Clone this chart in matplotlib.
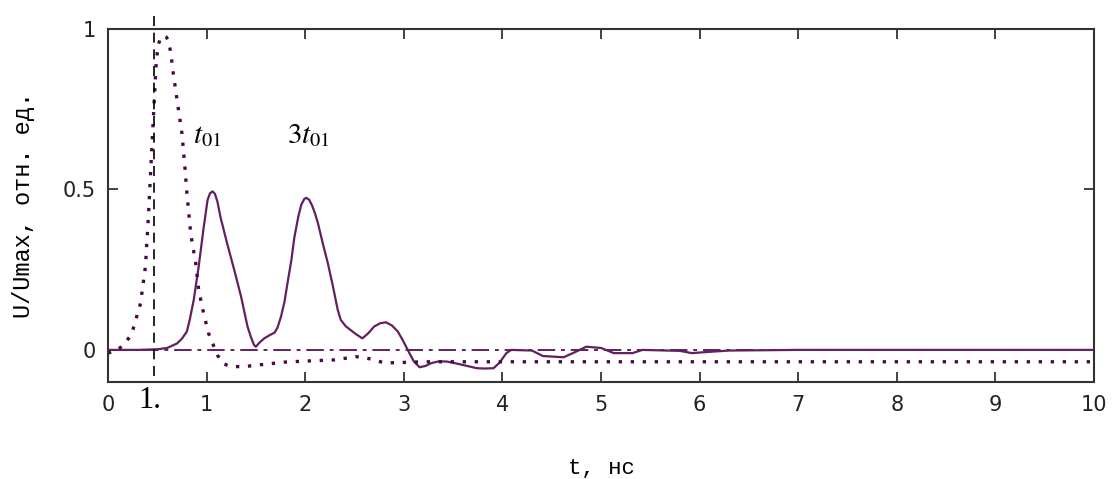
import matplotlib
matplotlib.use('Agg')
import matplotlib.pyplot as plt

plt.rcParams['mathtext.fontset'] = 'stix'

# solid trace (response)
t_resp = [0.0, 0.3, 0.5, 0.6, 0.7, 0.75, 0.8, 0.83, 0.87, 0.92, 0.97, 1.01, 1.035, 1.06, 1.085,
          1.11, 1.14, 1.21, 1.28, 1.35, 1.415, 1.45, 1.48, 1.50, 1.54, 1.585, 1.64, 1.69, 1.72,
          1.755, 1.79, 1.82, 1.86, 1.89, 1.93, 1.96, 1.99, 2.01, 2.04, 2.07, 2.10, 2.13, 2.18,
          2.23, 2.28, 2.33, 2.36, 2.41, 2.46, 2.52, 2.58, 2.64, 2.70, 2.76, 2.82, 2.88, 2.94,
          2.99, 3.04, 3.10, 3.16, 3.22, 3.28, 3.35, 3.43, 3.50, 3.60, 3.74, 3.82, 3.91, 3.97,
          4.04, 4.09, 4.30, 4.41, 4.62, 4.75, 4.85, 5.00, 5.13, 5.32, 5.42, 5.80, 5.92, 6.10,
          6.30, 7.00, 8.00, 9.00, 10.0]
u_resp = [0.0, 0.0, 0.002, 0.006, 0.02, 0.035, 0.057, 0.095, 0.156, 0.26, 0.38, 0.467, 0.488, 0.494, 0.486,
          0.462, 0.415, 0.33, 0.25, 0.166, 0.073, 0.04, 0.016, 0.01, 0.024, 0.036, 0.046, 0.054, 0.07,
          0.104, 0.15, 0.207, 0.28, 0.35, 0.415, 0.452, 0.47, 0.474, 0.468, 0.45, 0.425, 0.394, 0.33,
          0.27, 0.2, 0.125, 0.094, 0.074, 0.062, 0.048, 0.036, 0.052, 0.073, 0.083, 0.086, 0.076, 0.057,
          0.03, 0.0, -0.035, -0.054, -0.05, -0.041, -0.036, -0.036, -0.04, -0.047, -0.057, -0.058, -0.057, -0.04,
          -0.01, 0.0, -0.002, -0.019, -0.023, -0.005, 0.01, 0.006, -0.01, -0.01, 0.0, -0.003, -0.01, -0.006,
          -0.002, 0.0, 0.0, 0.0, 0.0]

# dotted trace (input pulse)
t_in = [0.0, 0.1, 0.17, 0.24, 0.33, 0.38, 0.41, 0.445, 0.47, 0.49, 0.51, 0.53, 0.55, 0.57, 0.59,
        0.61, 0.635, 0.66, 0.70, 0.75, 0.78, 0.80, 0.84, 0.89, 0.92, 0.97, 1.02, 1.07, 1.11, 1.16,
        1.24, 1.38, 1.585, 1.79, 1.99, 2.3, 2.52, 2.62, 2.80, 2.9, 3.2, 5.0, 7.0, 10.0]
u_in = [-0.01, 0.0, 0.02, 0.049, 0.145, 0.26, 0.415, 0.63, 0.78, 0.90, 0.95, 0.97, 0.978, 0.978, 0.975,
        0.967, 0.93, 0.867, 0.78, 0.675, 0.571, 0.49, 0.36, 0.27, 0.187, 0.114, 0.052, 0.014, -0.016, -0.041,
        -0.052, -0.052, -0.045, -0.038, -0.035, -0.031, -0.021, -0.025, -0.04, -0.04, -0.037, -0.037, -0.037, -0.037]

t_zero = [0.0, 10.0]
u_zero = [0.0, 0.0]

t_mark = 0.47

x_ticks = list(range(0, 11))
y_ticks = [0, 0.5, 1]
y_ticklabels = ['0', '0.5', '1']

c_line = '#62205f'
c_dot = '#4a0848'

fig = plt.figure(figsize=(11.13, 4.79), dpi=100)
ax = fig.add_axes([0.097, 0.2025, 0.886, 0.737])

ax.plot(t_zero, u_zero, color=c_line, lw=1.4, dashes=(9, 3, 2, 3))
ax.plot(t_resp, u_resp, color=c_line, lw=1.6)
ax.plot(t_in, u_in, color=c_dot, lw=2.4, dashes=(1, 2.6))
ax.plot([t_mark, t_mark], [-0.08, 1.06], color='black', lw=1.2, dashes=(6, 4), clip_on=False)

ax.set_xlim(0, 10)
ax.set_ylim(-0.1, 1.0)
ax.set_xticks(x_ticks)
ax.set_yticks(y_ticks)
ax.set_yticklabels(y_ticklabels)
ax.tick_params(direction='in', length=7, width=1.2, top=True, right=True,
               labelsize=15, pad=9, colors='#222222')
for s in ax.spines.values():
    s.set_linewidth(1.5)
    s.set_color('#333333')

ax.set_xlabel('t, нс', family='Liberation Mono', fontsize=16, labelpad=31)
ax.set_ylabel('U/Umax, отн. ед.', family='Liberation Mono', fontsize=17, labelpad=20)

ax.text(1.01, 0.645, r'$t_{01}$', fontsize=21, ha='center', va='baseline')
ax.text(2.03, 0.645, r'$3t_{01}$', fontsize=21, ha='center', va='baseline')
ax.text(0.31, -0.18, '1.', family='Liberation Serif', fontsize=22, ha='left',
        va='baseline', clip_on=False)

fig.savefig('out.png', dpi=100)
